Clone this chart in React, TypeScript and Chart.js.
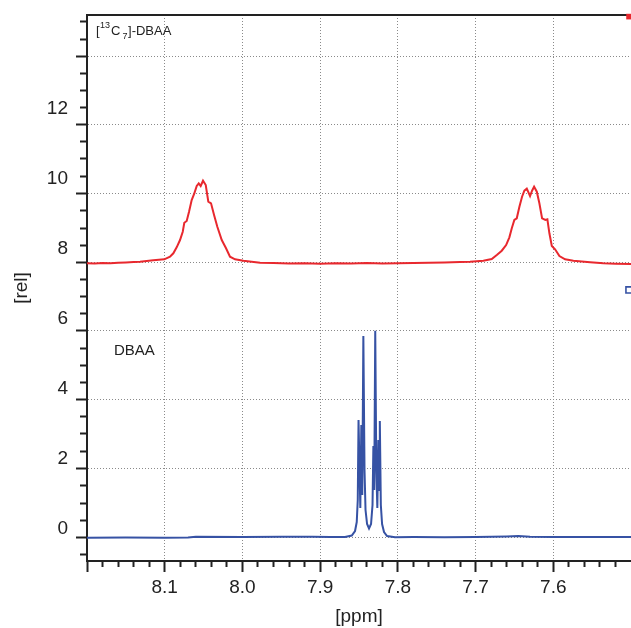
import React, { useEffect, useRef } from 'react';
import { Chart, registerables } from 'chart.js';

Chart.register(...registerables);

const FONT = '"Liberation Sans", Arial, Helvetica, sans-serif';
const TEXT = '#222222';
const RED = '#e8282e';
const BLUE = '#3652a4';
const GRID = '#8a8a8a';

// red spectrum ([13C7]-DBAA), chemical shift in ppm and relative intensity
const redPpm = [
  8.2, 8.19, 8.18, 8.17, 8.16, 8.15, 8.14, 8.1318, 8.1147, 8.1005, 8.0932, 8.0889, 8.0846, 8.0803,
  8.0768, 8.0748, 8.0717, 8.0687, 8.0653, 8.0619, 8.0588, 8.0562, 8.0537, 8.0507, 8.0472, 8.0439,
  8.0404, 8.0365, 8.0323, 8.0266, 8.0211, 8.016, 8.0095, 7.9988, 7.9773, 7.96, 7.94, 7.92, 7.9,
  7.88, 7.86, 7.84, 7.82, 7.8, 7.78, 7.76, 7.74, 7.72, 7.7071, 7.69, 7.6792, 7.6727, 7.6663,
  7.6607, 7.6565, 7.6534, 7.6501, 7.647, 7.6436, 7.6402, 7.6372, 7.6341, 7.6299, 7.6273, 7.6247,
  7.6212, 7.6179, 7.6144, 7.6102, 7.6076, 7.605, 7.6019, 7.5977, 7.5921, 7.5848, 7.5741, 7.5526,
  7.5355, 7.52, 7.5,
];
const redRel = [
  7.575, 7.566, 7.58, 7.571, 7.586, 7.594, 7.606, 7.617, 7.66, 7.686, 7.76, 7.857, 8.029, 8.237,
  8.474, 8.731, 8.78, 9.046, 9.38, 9.571, 9.78, 9.857, 9.78, 9.931, 9.809, 9.331,
  9.286, 8.951, 8.617, 8.237, 8.0, 7.76, 7.686, 7.646, 7.589, 7.58, 7.566, 7.574, 7.56,
  7.571, 7.563, 7.577, 7.566, 7.571, 7.58, 7.586, 7.594, 7.606, 7.617, 7.646, 7.694, 7.809, 7.931,
  8.094, 8.314, 8.571, 8.809, 8.857, 9.189, 9.474, 9.646, 9.703, 9.494, 9.646, 9.76,
  9.617, 9.286, 8.857, 8.809, 8.829, 8.429, 8.066, 7.971, 7.78, 7.686, 7.646, 7.6,
  7.571, 7.56, 7.551,
];

// blue spectrum (DBAA)
const bluePpm = [
  8.2, 8.15, 8.1, 8.07, 8.06, 8.0, 7.95, 7.91, 7.8873, 7.868, 7.8593, 7.8551, 7.8529, 7.8516,
  7.8506, 7.8493, 7.8483, 7.847, 7.8458, 7.8444, 7.8429, 7.8416, 7.8396, 7.8371, 7.8345, 7.8326,
  7.8315, 7.8304, 7.8291, 7.8277, 7.8264, 7.8251, 7.8242, 7.8232, 7.8219, 7.8203, 7.8178, 7.8139,
  7.8036, 7.78, 7.74, 7.7, 7.66, 7.645, 7.63, 7.6, 7.56, 7.5,
];
const blueRel = [
  -0.269, -0.266, -0.271, -0.262, -0.243, -0.246, -0.24, -0.243, -0.249, -0.249, -0.206, -0.077, 0.18, 0.809,
  3.094, 1.666, 0.58, 2.951, 0.951, 5.494, 1.666, 0.523, 0.123, -0.006, 0.123, 0.666,
  2.351, 1.094, 5.646, 1.666, 0.58, 2.523, 1.094, 3.066, 0.666, 0.123, -0.106, -0.22,
  -0.257, -0.249, -0.254, -0.246, -0.231, -0.223, -0.24, -0.246, -0.249, -0.251,
];

// corner markers of the two traces
const redMarkerPpm = [7.5025];
const redMarkerRel = [14.62];
const blueMarkerPpm = [7.5025];
const blueMarkerRel = [6.81];

// axes
const xMin = 7.5;
const xMax = 8.2;
const xLabelTicks = [7.6, 7.7, 7.8, 7.9, 8.0, 8.1];
const xEdgeTicks = [8.2];
const xMinorTicks = [
  7.52, 7.54, 7.56, 7.58, 7.62, 7.64, 7.66, 7.68, 7.72, 7.74, 7.76, 7.78, 7.82, 7.84,
  7.86, 7.88, 7.92, 7.94, 7.96, 7.98, 8.02, 8.04, 8.06, 8.08, 8.12, 8.14, 8.16, 8.18,
];
const yMin = -0.934;
const yMax = 14.666;
const yLabelTicks = [0, 2, 4, 6, 8, 10, 12];
const yGridTicks = [-0.27, 1.71, 3.68, 5.64, 7.59, 9.57, 11.54, 13.49];
const yExtraMinorTicks = [-0.76, 13.98, 14.47];

const toPoints = (xs: number[], ys: number[]) => xs.map((x, i) => ({ x, y: ys[i] }));

type TickKind = 'label' | 'grid' | 'minor' | 'edge';
const mk = (values: number[], kind: TickKind) => values.map((value) => ({ value, kind }));

function yMinorTicks(): number[] {
  const out: number[] = [...yExtraMinorTicks];
  for (let i = 0; i < yGridTicks.length - 1; i++) {
    const a = yGridTicks[i];
    const b = yGridTicks[i + 1];
    for (let k = 1; k < 4; k++) out.push(a + ((b - a) * k) / 4);
  }
  return out;
}

const annotationPlugin = {
  id: 'nmrAnnotations',
  afterDraw(chart: any) {
    const { ctx, chartArea } = chart;
    ctx.save();
    ctx.fillStyle = TEXT;
    ctx.textBaseline = 'alphabetic';
    ctx.textAlign = 'left';
    const main = `13px ${FONT}`;
    const small = `9px ${FONT}`;
    const base = chartArea.top + 20;
    let x = chartArea.left + 9;
    ctx.font = main;
    ctx.fillText('[', x, base);
    x += ctx.measureText('[').width + 0.5;
    ctx.font = small;
    ctx.fillText('13', x, base - 7);
    x += ctx.measureText('13').width + 1;
    ctx.font = main;
    ctx.fillText('C', x, base);
    x += ctx.measureText('C').width + 2;
    ctx.font = small;
    ctx.fillText('7', x, base + 4);
    x += ctx.measureText('7').width + 0.5;
    ctx.font = main;
    ctx.fillText(']-DBAA', x, base);

    ctx.font = `15px ${FONT}`;
    ctx.fillText('DBAA', chartArea.left + 27, 355);
    ctx.restore();
  },
};

export default function App() {
  const ref = useRef<HTMLCanvasElement | null>(null);

  useEffect(() => {
    if (!ref.current) return;
    const kindOf = (ctx: any): string => (ctx && ctx.tick && ctx.tick.kind) || '';

    const chart = new Chart(ref.current, {
      type: 'scatter',
      data: {
        datasets: [
          {
            label: 'red marker',
            data: toPoints(redMarkerPpm, redMarkerRel),
            pointStyle: 'rect',
            pointRadius: 4,
            backgroundColor: RED,
            borderColor: RED,
            borderWidth: 0,
            showLine: false,
            clip: false,
          } as any,
          {
            label: 'blue marker',
            data: toPoints(blueMarkerPpm, blueMarkerRel),
            pointStyle: 'rect',
            pointRadius: 4.4,
            backgroundColor: '#ffffff',
            borderColor: BLUE,
            borderWidth: 1.6,
            showLine: false,
            clip: false,
          } as any,
          {
            label: '[13C7]-DBAA',
            data: toPoints(redPpm, redRel),
            showLine: true,
            borderColor: RED,
            borderWidth: 2,
            pointRadius: 0,
            tension: 0,
          },
          {
            label: 'DBAA',
            data: toPoints(bluePpm, blueRel),
            showLine: true,
            borderColor: BLUE,
            borderWidth: 2,
            pointRadius: 0,
            tension: 0,
          },
        ],
      },
      options: {
        animation: false,
        responsive: false,
        maintainAspectRatio: false,
        events: [],
        layout: { padding: 0, autoPadding: false },
        plugins: {
          legend: { display: false },
          tooltip: { enabled: false },
        },
        scales: {
          x: {
            type: 'linear',
            position: 'bottom',
            min: xMin,
            max: xMax,
            reverse: true,
            afterBuildTicks: (s: any) => {
              s.ticks = [...mk(xLabelTicks, 'label'), ...mk(xMinorTicks, 'minor'), ...mk(xEdgeTicks, 'edge')].sort(
                (a, b) => a.value - b.value
              );
            },
            afterFit: (s: any) => {
              s.height = 67;
              s.paddingLeft = 0;
              s.paddingRight = 0;
            },
            ticks: {
              autoSkip: false,
              maxRotation: 0,
              padding: 4,
              color: TEXT,
              font: { family: FONT, size: 19 },
              callback: (v: any, i: number, t: any[]) => (t[i] && t[i].kind === 'label' ? Number(v).toFixed(1) : ''),
            },
            grid: {
              drawOnChartArea: true,
              lineWidth: 1,
              color: (ctx: any) => (kindOf(ctx) === 'label' ? GRID : 'rgba(0,0,0,0)'),
              tickLength: 11,
              tickWidth: 2,
              tickColor: TEXT,
              tickBorderDash: (ctx: any) => (kindOf(ctx) === 'minor' ? [5, 100] : []),
            } as any,
            border: { display: true, color: TEXT, width: 2, dash: [1, 2] },
            title: {
              display: true,
              text: '[ppm]',
              color: TEXT,
              font: { family: FONT, size: 19 },
              padding: { top: 0, bottom: 0 },
            },
          },
          x2: {
            type: 'linear',
            position: 'top',
            min: xMin,
            max: xMax,
            reverse: true,
            afterFit: (s: any) => {
              s.height = 15;
              s.paddingLeft = 0;
              s.paddingRight = 0;
            },
            ticks: { display: false },
            grid: { display: false, drawTicks: false },
            border: { display: true, color: TEXT, width: 2 },
          },
          y: {
            type: 'linear',
            position: 'left',
            min: yMin,
            max: yMax,
            afterBuildTicks: (s: any) => {
              s.ticks = [...mk(yLabelTicks, 'label'), ...mk(yGridTicks, 'grid'), ...mk(yMinorTicks(), 'minor')].sort(
                (a, b) => a.value - b.value
              );
            },
            afterFit: (s: any) => {
              s.width = 87;
              s.paddingTop = 0;
              s.paddingBottom = 0;
            },
            ticks: {
              autoSkip: false,
              padding: 8,
              color: TEXT,
              font: { family: FONT, size: 19 },
              callback: (v: any, i: number, t: any[]) => (t[i] && t[i].kind === 'label' ? String(v) : ''),
            },
            grid: {
              drawOnChartArea: true,
              lineWidth: 1,
              color: (ctx: any) => (kindOf(ctx) === 'grid' ? GRID : 'rgba(0,0,0,0)'),
              tickLength: 11,
              tickWidth: 2,
              tickColor: (ctx: any) => (kindOf(ctx) === 'label' ? 'rgba(0,0,0,0)' : TEXT),
              tickBorderDash: (ctx: any) => (kindOf(ctx) === 'minor' ? [0, 4, 6, 100] : []),
            } as any,
            border: { display: true, color: TEXT, width: 2, dash: [1, 2] },
            title: {
              display: true,
              text: '[rel]',
              color: TEXT,
              font: { family: FONT, size: 19 },
              padding: { top: 10, bottom: 0 },
            },
          },
        },
      } as any,
      plugins: [annotationPlugin],
    });

    return () => chart.destroy();
  }, []);

  return (
    <div style={{ position: 'fixed', left: 0, top: 0, width: 631, height: 628, background: '#fff' }}>
      <canvas ref={ref} width={631} height={628} style={{ display: 'block', width: 631, height: 628 }} />
    </div>
  );
}
